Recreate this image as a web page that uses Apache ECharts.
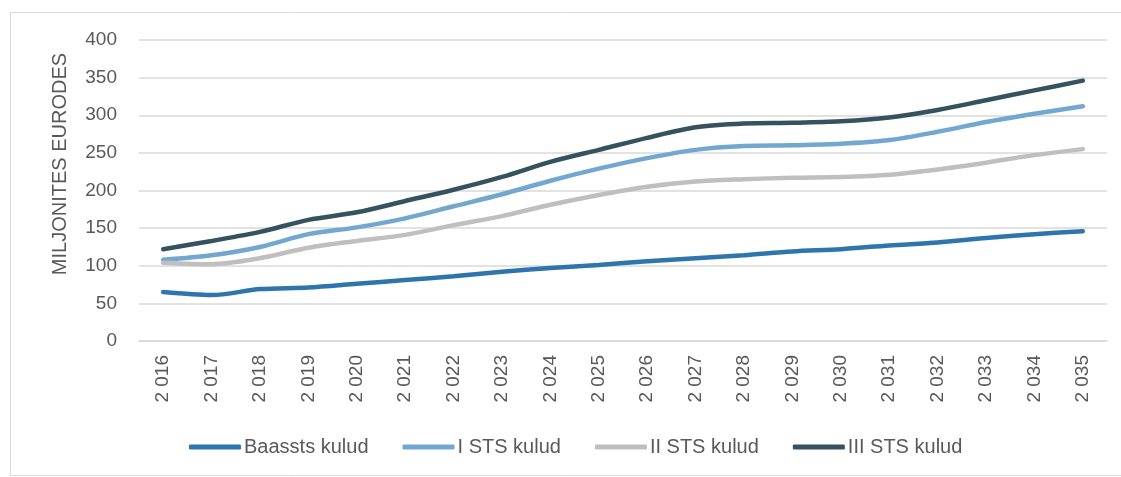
<!DOCTYPE html>
<html>
<head>
<meta charset="utf-8">
<script src="https://cdn.jsdelivr.net/npm/echarts@6/dist/echarts.min.js"></script>
<style>
  html, body { margin: 0; padding: 0; background: #fff; }
  #charts_box { width: 1121px; height: 477px; }
</style>
</head>
<body>
<div id="charts_box"></div>
<script>
// andmed
var years = [2016, 2017, 2018, 2019, 2020, 2021, 2022, 2023, 2024, 2025,
             2026, 2027, 2028, 2029, 2030, 2031, 2032, 2033, 2034, 2035];
var baasstsKulud = [65, 61, 69, 71, 76, 81, 86, 92, 97, 101, 106, 110, 114, 119, 122, 127, 131, 137, 142, 146];
var iStsKulud    = [108, 114, 125, 142, 151, 163, 179, 195, 213, 229, 243, 254, 259, 260, 262, 267, 278, 291, 302, 312];
var iiStsKulud   = [104, 102, 110, 124, 133, 141, 154, 166, 181, 194, 205, 212, 215, 217, 218, 221, 228, 237, 247, 255];
var iiiStsKulud  = [122, 133, 145, 161, 171, 186, 201, 218, 238, 254, 270, 284, 289, 290, 292, 297, 307, 320, 333, 346];
var yTicks = [0, 50, 100, 150, 200, 250, 300, 350, 400];

window.onload = function(){
    var myChart = echarts.init(document.getElementById("charts_box"));

    function makeLine(name, data, color){
        return {
            name: name,
            type: 'line',
            data: data,
            smooth: 0.3,
            symbol: 'none',
            color: color,
            lineStyle: { width: 4.5, color: color, cap: 'round' }
        };
    }

    var option = {
        animation: false,
        backgroundColor: '#fff',
        textStyle: { fontFamily: 'Liberation Sans' },
        graphic: [
            {
                type: 'rect',
                shape: { x: 10.5, y: 12.5, width: 1130, height: 463 },
                style: { fill: 'none', stroke: '#d9d9d9', lineWidth: 1 },
                silent: true
            },
            {
                type: 'text',
                x: 60, y: 164,
                rotation: Math.PI / 2,
                style: {
                    text: 'MILJONITES EURODES',
                    fill: '#595959',
                    font: '20px "Liberation Sans"',
                    align: 'center',
                    verticalAlign: 'middle'
                }
            }
        ],
        grid: { left: 139, right: 14, top: 40, bottom: 136 },
        legend: {
            left: 184,
            top: 432,
            itemWidth: 52,
            itemHeight: 5,
            itemGap: 34,
            icon: 'roundRect',
            textStyle: { color: '#595959', fontSize: 20, padding: [0, 0, 0, -2] },
            data: ['Baassts kulud', 'I STS kulud', 'II STS kulud', 'III STS kulud']
        },
        xAxis: {
            type: 'category',
            boundaryGap: true,
            data: years,
            axisLine: { show: true, lineStyle: { color: '#d9d9d9', width: 1.5 } },
            axisTick: { show: false },
            axisLabel: {
                rotate: 90,
                interval: 0,
                margin: 14,
                color: '#595959',
                fontSize: 19,
                formatter: function(v){
                    var s = String(v);
                    return s.slice(0, 1) + ' ' + s.slice(1);
                }
            }
        },
        yAxis: {
            type: 'value',
            min: yTicks[0],
            max: yTicks[yTicks.length - 1],
            interval: 50,
            axisLine: { show: false },
            axisTick: { show: false },
            axisLabel: { color: '#595959', fontSize: 19, margin: 22 },
            splitLine: { lineStyle: { color: '#d9d9d9', width: 1.5 } }
        },
        series: [
            makeLine('Baassts kulud', baasstsKulud, '#2e75ad'),
            makeLine('I STS kulud', iStsKulud, '#72a7d0'),
            makeLine('II STS kulud', iiStsKulud, '#bfbfbf'),
            makeLine('III STS kulud', iiiStsKulud, '#35525f')
        ]
    };
    myChart.setOption(option);
};
</script>
</body>
</html>
